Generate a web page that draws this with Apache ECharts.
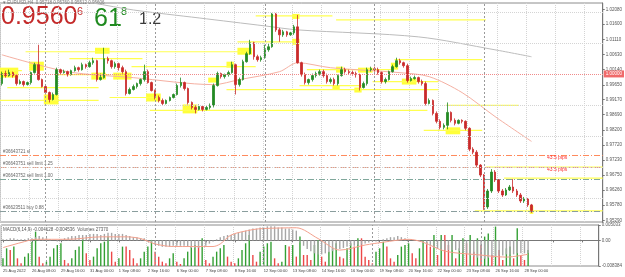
<!DOCTYPE html>
<html>
<head>
<meta charset="utf-8">
<script src="https://cdn.jsdelivr.net/npm/echarts@6/dist/echarts.min.js"></script>
<style>
  html, body { margin: 0; padding: 0; background: #fff; }
  #main { width: 625px; height: 277px; }
</style>
</head>
<body>
<div id="main"></div>
<script>
// EURUSD H4, 25 Aug - 28 Sep 2022
const timeLabels = ['25 Aug 2022', '26 Aug 08:00', '29 Aug 16:00', '31 Aug 00:00', '1 Sep 08:00',
  '2 Sep 16:00', '6 Sep 00:00', '7 Sep 08:00', '8 Sep 16:00', '12 Sep 00:00', '13 Sep 08:00',
  '14 Sep 16:00', '16 Sep 00:00', '19 Sep 08:00', '20 Sep 16:00', '22 Sep 00:00', '23 Sep 08:00',
  '26 Sep 16:00', '28 Sep 00:00']

// [open, close, low, high]
const ohlc = [
  [0.99690, 1.00010, 0.99626, 1.00074], [1.00010, 0.99946, 0.99882, 1.00106], [0.99946, 1.00042, 0.99914, 1.00138],
  [1.00042, 0.99946, 0.99882, 1.00074], [0.99946, 0.99690, 0.99626, 0.99978], [0.99690, 0.99754, 0.99658, 0.99818],
  [0.99754, 0.99658, 0.99594, 0.99786], [0.99658, 0.99722, 0.99626, 0.99754], [0.99722, 1.00042, 0.99658, 1.00074],
  [1.00042, 1.00298, 1.00010, 1.00362], [1.00298, 0.99818, 0.99786, 1.00938], [0.99818, 0.99594, 0.99562, 0.99850],
  [0.99594, 0.99402, 0.99338, 0.99658], [0.99402, 0.99178, 0.99082, 0.99434], [0.99178, 0.99338, 0.99146, 0.99402],
  [0.99338, 1.00138, 0.99306, 1.00202], [1.00138, 1.00042, 0.99978, 1.00170], [1.00042, 1.00074, 1.00010, 1.00138],
  [1.00074, 0.99978, 0.99914, 1.00106], [0.99978, 1.00106, 0.99946, 1.00138], [1.00106, 1.00202, 1.00074, 1.00266],
  [1.00202, 1.00138, 1.00074, 1.00234], [1.00138, 1.00298, 1.00106, 1.00362], [1.00298, 1.00234, 1.00170, 1.00330],
  [1.00234, 1.00362, 1.00202, 1.00426], [1.00362, 1.00426, 1.00298, 1.00522], [1.00426, 0.99818, 0.99754, 1.00458],
  [0.99818, 0.99882, 0.99786, 1.00010], [0.99882, 1.00490, 0.99850, 1.00842], [1.00490, 1.00426, 1.00330, 1.00554],
  [1.00426, 1.00234, 1.00170, 1.00458], [1.00234, 1.00330, 1.00170, 1.00394], [1.00330, 1.00202, 1.00106, 1.00362],
  [1.00202, 1.00074, 1.00010, 1.00266], [1.00074, 0.99370, 0.99306, 1.00138], [0.99370, 0.99498, 0.99338, 0.99562],
  [0.99498, 0.99594, 0.99466, 0.99658], [0.99594, 0.99690, 0.99530, 0.99722], [0.99690, 0.99818, 0.99626, 0.99850],
  [0.99818, 1.00074, 0.99754, 1.00298], [1.00074, 0.99722, 0.99690, 1.00138], [0.99722, 0.99466, 0.99434, 0.99754],
  [0.99466, 0.99242, 0.99178, 0.99498], [0.99242, 0.99146, 0.99082, 0.99306], [0.99146, 0.99050, 0.98986, 0.99210],
  [0.99050, 0.99146, 0.99018, 0.99178], [0.99146, 0.99242, 0.99114, 0.99274], [0.99242, 0.99338, 0.99210, 0.99370],
  [0.99338, 0.99626, 0.99306, 0.99690], [0.99626, 0.99722, 0.99562, 0.99882], [0.99722, 0.99530, 0.99466, 0.99754],
  [0.99530, 0.99082, 0.99018, 0.99562], [0.99082, 0.98922, 0.98858, 0.99114], [0.98922, 0.98858, 0.98730, 0.98986],
  [0.98858, 0.98954, 0.98826, 0.99018], [0.98954, 0.98858, 0.98794, 0.98986], [0.98858, 0.98922, 0.98826, 0.98986],
  [0.98922, 0.98986, 0.98858, 0.99050], [0.98986, 0.99626, 0.98922, 0.99690], [0.99626, 1.00010, 0.99594, 1.00074],
  [1.00010, 0.99914, 0.99850, 1.00042], [0.99914, 0.99978, 0.99850, 1.00010], [0.99978, 1.00042, 0.99914, 1.00106],
  [1.00042, 1.00298, 1.00010, 1.00394], [1.00298, 0.99658, 0.99338, 1.00330], [0.99658, 0.99818, 0.99594, 0.99882],
  [0.99818, 1.00394, 0.99786, 1.00458], [1.00394, 1.00650, 1.00362, 1.00714], [1.00650, 1.01002, 1.00618, 1.01098],
  [1.01002, 1.00554, 1.00458, 1.01034], [1.00554, 1.00458, 1.00394, 1.00618], [1.00458, 1.00522, 1.00394, 1.00586],
  [1.00522, 1.00778, 1.00490, 1.00938], [1.00778, 1.00874, 1.00714, 1.00970], [1.00874, 1.01930, 1.00842, 1.01962],
  [1.01930, 1.01418, 1.01354, 1.01962], [1.01418, 1.01258, 1.01034, 1.01482], [1.01258, 1.01354, 1.01194, 1.01418],
  [1.01354, 1.01258, 1.01194, 1.01386], [1.01258, 1.01322, 1.01226, 1.01354], [1.01322, 1.01514, 1.01258, 1.01578],
  [1.01514, 1.00362, 1.00330, 1.01898], [1.00362, 0.99978, 0.99914, 1.00394], [0.99978, 0.99722, 0.99658, 1.00042],
  [0.99722, 0.99818, 0.99658, 0.99850], [0.99818, 0.99946, 0.99754, 1.00010], [0.99946, 1.00010, 0.99882, 1.00074],
  [1.00010, 1.00074, 0.99946, 1.00138], [1.00074, 0.99946, 0.99882, 1.00138], [0.99946, 0.99754, 0.99690, 1.00010],
  [0.99754, 0.99818, 0.99690, 0.99882], [0.99818, 0.99690, 0.99626, 0.99882], [0.99690, 0.99946, 0.99626, 0.99978],
  [0.99946, 1.00138, 0.99914, 1.00234], [1.00138, 1.00074, 1.00010, 1.00202], [1.00074, 1.00042, 0.99978, 1.00138],
  [1.00042, 1.00010, 0.99946, 1.00106], [1.00010, 0.99978, 0.99882, 1.00074], [0.99978, 0.99562, 0.99466, 1.00010],
  [0.99562, 0.99690, 0.99530, 0.99754], [0.99690, 1.00138, 0.99626, 1.00202], [1.00138, 1.00170, 1.00074, 1.00234],
  [1.00170, 1.00138, 1.00074, 1.00234], [1.00138, 1.00042, 0.99978, 1.00202], [1.00042, 0.99754, 0.99690, 1.00074],
  [0.99754, 0.99818, 0.99690, 0.99882], [0.99818, 1.00074, 0.99786, 1.00106], [1.00074, 1.00234, 1.00042, 1.00298],
  [1.00234, 1.00426, 1.00202, 1.00522], [1.00426, 1.00362, 1.00298, 1.00490], [1.00362, 1.00266, 1.00202, 1.00394],
  [1.00266, 0.99786, 0.99722, 1.00330], [0.99786, 0.99850, 0.99754, 0.99914], [0.99850, 0.99882, 0.99818, 0.99946],
  [0.99882, 0.99754, 0.99690, 0.99914], [0.99754, 0.99690, 0.99626, 0.99818], [0.99690, 0.99050, 0.98986, 0.99754],
  [0.99050, 0.99146, 0.99018, 0.99210], [0.99146, 0.98730, 0.98666, 0.99178], [0.98730, 0.98474, 0.98410, 0.98794],
  [0.98474, 0.98282, 0.98218, 0.98538], [0.98282, 0.98346, 0.98218, 0.98410], [0.98346, 0.98762, 0.98218, 0.99082],
  [0.98762, 0.98506, 0.98442, 0.98794], [0.98506, 0.98410, 0.98346, 0.98570], [0.98410, 0.98506, 0.98378, 0.98538],
  [0.98506, 0.98474, 0.98410, 0.98538], [0.98474, 0.98250, 0.98186, 0.98506], [0.98250, 0.97578, 0.97514, 0.98282],
  [0.97578, 0.97482, 0.97418, 0.97642], [0.97482, 0.97066, 0.97002, 0.97546], [0.97066, 0.96746, 0.96682, 0.97098],
  [0.96746, 0.95722, 0.95626, 0.96778], [0.95722, 0.96234, 0.95658, 0.96298], [0.96234, 0.96842, 0.96170, 0.96938],
  [0.96842, 0.96586, 0.96522, 0.96906], [0.96586, 0.96234, 0.96170, 0.96618], [0.96234, 0.96106, 0.96042, 0.96298],
  [0.96106, 0.96266, 0.96074, 0.96330], [0.96266, 0.96362, 0.96234, 0.96426], [0.96362, 0.96234, 0.96170, 0.96618],
  [0.96234, 0.96106, 0.96042, 0.96298], [0.96106, 0.95914, 0.95850, 0.96170], [0.95914, 0.95978, 0.95850, 0.96042],
  [0.95978, 0.95786, 0.95722, 0.96010], [0.95786, 0.95606, 0.95530, 0.95818]
]

const volumes = [
  13100, 30200, 27400, 33100, 13100, 4600, 16000, 21700, 41600, 58700,
  16000, 4600, 7400, 16000, 30200, 35900, 38800, 10300, 4600, 13100,
  27400, 33100, 47300, 21700, 10300, 16000, 30200, 38800, 41600, 50200,
  24500, 7400, 13100, 33100, 33100, 27400, 13100, 4600, 13100, 24500,
  33100, 44500, 24500, 16000, 7400, 4600, 13100, 21700, 7400, 3400,
  13100, 24500, 33100, 35900, 33100, 47300, 10300, 4600, 16000, 24500,
  30200, 35900, 16000, 7400, 4600, 13100, 27400, 38800, 53000, 18800,
  7400, 24500, 33100, 38800, 41600, 13100, 4600, 7400, 35900, 33100,
  35900, 16000,
  50200, 18800, 18800, 10300, 35900, 44500, 16000, 7400, 24500, 30200,
  38800, 16000, 13100, 30200, 38800, 33100, 47300, 47300, 16000, 10300,
  4600, 24500, 30200, 41600, 33100, 13100, 7400, 18800, 33100, 35900,
  38800, 21700, 13100, 30200, 44500, 41600, 33100, 53000, 18800, 53000,
  53000, 35900, 53000, 13100, 30200, 47300, 38800, 53000, 24500, 47300,
  35900, 50200, 55300, 18800, 67300, 27400, 10300, 30200, 33100, 13100,
  64400, 18800, 10300, 27370
]

const macdHist = [
  0.00035, 0.00035, 0.00071, 0.00071, 0.00035, 0.00035, 0.00035, 0.00071, 0.00071, 0.00106, 0.00141, 0.00106,
  0.00071, 0.00035, 0, -0.00035, 0.00035,
  0.00071, 0.00106, 0.00141, 0.00141, 0.00177, 0.00177, 0.00177, 0.00212, 0.00212, 0.00212, 0.00177, 0.00212,
  0.00247, 0.00247, 0.00212, 0.00212, 0.00212, 0.00177, 0.00141, 0.00106, 0.00106, 0.00071, 0.00071,
  -0.00035, -0.00071, -0.00141, -0.00177, -0.00212, -0.00212, -0.00212, -0.00177, -0.00177, -0.00177,
  -0.00177, -0.00212, -0.00247, -0.00247, -0.00247, -0.00212, -0.00177, -0.00106, -0.00035,
  0.00035, 0.00106, 0.00141, 0.00177, 0.00177, 0.00212, 0.00247, 0.00282, 0.00318, 0.00353, 0.00388, 0.00388,
  0.00424, 0.00424, 0.00459, 0.00459, 0.00459, 0.00424, 0.00424, 0.00388, 0.00388, 0.00353, 0.00318,
  -0.00071, -0.00177, -0.00282, -0.00353, -0.00424, -0.00459, -0.00459, -0.00424, -0.00388, -0.00353,
  -0.00318, -0.00282, -0.00247, -0.00212, -0.00177, -0.00177, -0.00141, -0.00141, -0.00106, -0.00071, -0.00035,
  -0.00035, 0, 0.00035, 0.00071, 0.00106, 0.00106, 0.00141, 0.00106, 0.00071, 0.00035, 0, 0, -0.00035,
  -0.00071, -0.00141,
  -0.00177, -0.00247, -0.00282, -0.00318, -0.00318, -0.00318, -0.00318, -0.00318, -0.00353, -0.00388,
  -0.00424, -0.00494, -0.00530, -0.00565, -0.00600, -0.00600, -0.00565, -0.00530, -0.00530, -0.00494,
  -0.00494, -0.00459, -0.00459, -0.00459, -0.00424, -0.00424, -0.00424, -0.004128
]

// signal line, read at [bar, value]
const macdSignal = [
  [0, -0.00237], [5, -0.00071], [9, 0.00035], [18, 0.00035], [27, 0.00116], [34, 0.00116], [38, 0.0006],
  [42, -0.00116], [47, -0.00201], [58, -0.00201], [60, -0.00116], [63, 0.00177], [69, 0.00353], [72, 0.00388],
  [81, 0.00413], [87, 0.0006], [93, -0.00318], [100, -0.00152], [105, -0.0006], [112, 0.00035], [116, -0.0006],
  [122, -0.00353], [131, -0.0047], [139, -0.00547], [145, -0.004536]
]

// moving averages, read at [bar, price]
const maFast = [
  [0, 1.00616], [18, 1.00072], [36, 0.99880], [58, 0.99656], [65, 0.99816], [76, 1.00072], [81, 1.00360],
  [90, 1.00200], [109, 1.00040], [117, 0.99912], [126, 0.99399], [135, 0.98630], [145, 0.97829]
]
const maSlow = [
  [16, 1.02474], [25, 1.02282], [36, 1.02058], [54, 1.01801], [72, 1.01545], [81, 1.01417], [114, 1.01193],
  [135, 1.00776], [145, 1.00552]
]

const priceTicks = [1.0208, 1.0160, 1.0111, 1.0063, 1.0014, 0.9965, 0.9917, 0.9869, 0.9820,
  0.9772, 0.9723, 0.9675, 0.9626, 0.9578, 0.9529]
const macdTicks = [0.005033, 0, -0.008384]

// highlighted zones: [firstBar, lastBar, top, bottom]
const zones = [
  [0, 4, 1.00202, 0.99882], [8, 11, 1.00394, 1.00106], [12, 15, 0.99338, 0.99018], [26, 29, 1.00842, 1.00650],
  [25, 28, 1.00042, 0.99818], [31, 35, 1.00042, 0.99818], [40, 43, 0.99370, 0.99114], [50, 53, 0.99018, 0.98730],
  [57, 59, 0.99882, 0.99722], [62, 63, 1.00394, 1.00202], [65, 68, 1.00842, 1.00618], [80, 81, 1.01930, 1.01770],
  [80, 81, 1.01130, 1.00938], [92, 93, 1.00234, 1.00042], [91, 92, 0.99626, 0.99498], [98, 101, 1.00202, 1.00042],
  [97, 98, 0.99562, 0.99402], [107, 108, 1.00362, 1.00138], [110, 113, 0.99850, 0.99658], [122, 125, 0.98282, 0.98058],
  [145, 145, 0.95754, 0.95498]
]

// horizontal levels: [firstBar, lastBar, price]
const levels = [
  [70, 90, 1.01866], [92, 132, 1.01738], [65, 81, 1.01034], [7, 65, 1.00714], [19, 38, 1.00490], [36, 69, 1.00234],
  [0, 5, 1.00106], [16, 29, 0.99978], [2, 26, 0.99562], [0, 26, 0.99146], [30, 41, 0.99242], [41, 116, 0.98826],
  [62, 119, 0.99498], [108, 131, 1.00458], [84, 106, 1.00138], [102, 119, 0.99754], [82, 98, 0.99626],
  [122, 141, 0.98986], [116, 131, 0.98186], [133, 164, 0.97002], [138, 164, 0.96650], [130, 164, 0.95594]
]

const orderPrices = [0.97386, 0.97002, 0.96618, 0.95594]
const orderTexts = ['#36643721 sl', '#36643751 sell limit 1.25', '#36643752 sell limit 1.00', '#36623511 buy 0.88']
const pipLabels = [[152, 0.97306, '43.5 pips'], [152, 0.96906, '43.5 pips']]
const weekStarts = [12, 42, 72, 102, 132]
const roundLevel = 1.00000
const lastPrice = 0.95606

const slotCount = 165 // chart shift leaves empty slots on the right
const cats = []
for (let i = 0; i < slotCount; i++) {
  cats.push(i % 8 === 0 && timeLabels[i / 8] ? timeLabels[i / 8] : '')
}

const FONT = 'Liberation Sans, Arial, sans-serif'
const UP = '#238a23'
const DOWN = '#c92a2a'
const orderColors = ['#ff8a5c', '#e89880', '#80a89c', '#8a9e9e']

const chart = echarts.init(document.getElementById('main'))

const option = {
  animation: false,
  backgroundColor: '#ffffff',
  textStyle: { fontFamily: FONT },
  grid: [
    { left: 0, top: 3, width: 604, height: 219, show: true, borderColor: '#8c8c8c', borderWidth: 1 },
    { left: 0, top: 225, width: 604, height: 41, show: true, borderColor: '#8c8c8c', borderWidth: 1 }
  ],
  xAxis: [
    {
      type: 'category', gridIndex: 0, data: cats, boundaryGap: true,
      axisLine: { show: false }, axisTick: { show: false }, axisLabel: { show: false },
      splitLine: { show: true, interval: 7, lineStyle: { type: 'dotted', color: '#d4d4d4' } }
    },
    {
      type: 'category', gridIndex: 1, data: cats, boundaryGap: true,
      axisLine: { show: true, lineStyle: { color: '#777' } },
      axisTick: { show: true, interval: 7, length: 2, alignWithLabel: true, lineStyle: { color: '#777' } },
      axisLabel: { show: true, interval: 7, fontSize: 4, color: '#444', align: 'left', margin: 3 },
      splitLine: { show: true, interval: 7, lineStyle: { type: 'dotted', color: '#d4d4d4' } }
    }
  ],
  yAxis: [
    {
      type: 'value', gridIndex: 0, position: 'right', min: 0.95236, max: 1.02282,
      axisLine: { show: true, lineStyle: { color: '#777' } },
      axisTick: { show: true, length: 2, customValues: priceTicks, lineStyle: { color: '#777' } },
      axisLabel: { customValues: priceTicks, formatter: v => v.toFixed(5), fontSize: 4.5, color: '#555', margin: 3 },
      splitLine: { show: false }
    },
    {
      type: 'value', gridIndex: 1, position: 'right', min: -0.008384, max: 0.005033,
      axisLine: { show: true, lineStyle: { color: '#777' } },
      axisTick: { show: true, length: 2, customValues: macdTicks, lineStyle: { color: '#777' } },
      axisLabel: {
        customValues: macdTicks, fontSize: 4.5, color: '#555', margin: 3,
        formatter: v => (v === 0 ? '0.00' : v.toFixed(6))
      },
      splitLine: { show: false }
    },
    { type: 'value', gridIndex: 1, min: 0, max: 70000, show: false }
  ],
  graphic: [
    { type: 'text', x: 3, y: 0.5, style: { text: '\u25BE EURUSD,H4  0.95718 0.95760 0.95512 0.95606', font: '4.5px ' + FONT, fill: '#777' } },
    { type: 'text', x: 1, y: 5, style: { text: '0.9560', font: '25px ' + FONT, fill: '#c42a2a' } },
    { type: 'text', x: 77, y: 6, style: { text: '6', font: '11px ' + FONT, fill: '#c42a2a' } },
    { type: 'text', x: 94, y: 7, style: { text: '61', font: '25px ' + FONT, fill: '#1f8a1f' } },
    { type: 'text', x: 121, y: 6, style: { text: '8', font: '11px ' + FONT, fill: '#1f8a1f' } },
    { type: 'text', x: 139, y: 12, style: { text: '1.2', font: '16px ' + FONT, fill: '#3a3a3a' } },
    { type: 'text', x: 3, y: 227, style: { text: 'MACD(6,14,9) -0.004128 -0.004536  Volumes 27370', font: '4.5px ' + FONT, fill: '#555' } }
  ],
  series: [
    {
      // horizontal price grid
      name: 'grid', type: 'line', xAxisIndex: 0, yAxisIndex: 0, data: [], z: 0, silent: true,
      markLine: {
        silent: true, symbol: ['none', 'none'], label: { show: false },
        lineStyle: { type: 'dotted', color: '#d4d4d4', width: 1 },
        data: priceTicks.map(p => ({ yAxis: p }))
      }
    },
    {
      name: 'zones', type: 'custom', xAxisIndex: 0, yAxisIndex: 0, z: 1, clip: true, silent: true,
      data: zones,
      encode: { x: [0, 1], y: [2, 3] },
      renderItem: (params, api) => {
        const w = api.size([1, 0])[0]
        const a = api.coord([api.value(0), api.value(2)])
        const b = api.coord([api.value(1), api.value(3)])
        return {
          type: 'rect',
          shape: { x: a[0] - w / 2, y: a[1], width: b[0] - a[0] + w, height: b[1] - a[1] },
          style: { fill: '#ffff3a' }
        }
      }
    },
    {
      name: 'levels', type: 'custom', xAxisIndex: 0, yAxisIndex: 0, z: 1, clip: true, silent: true,
      data: levels,
      encode: { x: [0, 1], y: 2 },
      renderItem: (params, api) => {
        const w = api.size([1, 0])[0]
        const a = api.coord([api.value(0), api.value(2)])
        const b = api.coord([api.value(1), api.value(2)])
        return {
          type: 'line',
          shape: { x1: a[0] - w / 2, y1: a[1], x2: b[0] + w / 2, y2: b[1] },
          style: { stroke: '#ffff50', lineWidth: 1.2 }
        }
      }
    },
    {
      name: 'orders', type: 'custom', xAxisIndex: 0, yAxisIndex: 0, z: 2, clip: true, silent: true,
      data: orderPrices.map(p => [0, p]),
      encode: { x: 0, y: 1 },
      renderItem: (params, api) => {
        const w = api.size([1, 0])[0]
        const a = api.coord([0, api.value(1)])
        const b = api.coord([slotCount - 1, api.value(1)])
        const y = Math.round(a[1]) + 0.5
        return {
          type: 'group',
          children: [
            {
              type: 'line',
              shape: { x1: a[0] - w / 2, y1: y, x2: b[0] + w / 2, y2: y },
              style: { stroke: orderColors[params.dataIndex], lineWidth: 1, lineDash: [6, 2, 1, 2] }
            },
            {
              type: 'text', x: a[0] - w / 2 + 3, y: y - 1,
              style: { text: orderTexts[params.dataIndex], font: '4.5px ' + FONT, fill: '#666', verticalAlign: 'bottom' }
            }
          ]
        }
      }
    },
    {
      name: 'pips', type: 'custom', xAxisIndex: 0, yAxisIndex: 0, z: 4, silent: true,
      data: pipLabels.map(p => [p[0], p[1]]),
      encode: { x: 0, y: 1 },
      renderItem: (params, api) => {
        const a = api.coord([api.value(0), api.value(1)])
        return {
          type: 'text', x: a[0], y: a[1],
          style: {
            text: pipLabels[params.dataIndex][2], font: '5px ' + FONT, fill: '#ff3030',
            align: 'center', verticalAlign: 'middle'
          }
        }
      }
    },
    {
      name: 'MA slow', type: 'line', xAxisIndex: 0, yAxisIndex: 0, data: maSlow, z: 2,
      smooth: 0.3, showSymbol: false, clip: true, lineStyle: { color: '#bcbcbc', width: 1 }
    },
    {
      name: 'MA fast', type: 'line', xAxisIndex: 0, yAxisIndex: 0, data: maFast, z: 2,
      smooth: 0.3, showSymbol: false, clip: true, lineStyle: { color: '#f5b0a2', width: 1 }
    },
    {
      name: 'EURUSD', type: 'candlestick', xAxisIndex: 0, yAxisIndex: 0, data: ohlc, z: 3,
      barWidth: 2,
      itemStyle: { color: UP, color0: DOWN, borderColor: UP, borderColor0: DOWN, borderWidth: 0.8 },
      markLine: {
        silent: true, symbol: ['none', 'none'],
        data: [
          {
            yAxis: roundLevel,
            lineStyle: { color: '#f08a8a', type: 'dotted', width: 1 },
            label: {
              show: true, position: 'end', formatter: roundLevel.toFixed(5), fontSize: 4.5, color: '#fff',
              backgroundColor: '#f06a6a', padding: [1, 2], distance: 1
            }
          },
          {
            yAxis: lastPrice,
            lineStyle: { opacity: 0 },
            label: {
              show: true, position: 'end', formatter: lastPrice.toFixed(5), fontSize: 4.5, color: '#fff',
              backgroundColor: '#555', padding: [1, 2], distance: 1
            }
          },
          ...weekStarts.map(k => ({
            xAxis: k,
            lineStyle: { color: '#9a9a9a', type: [2, 2], width: 1 },
            label: { show: false }
          }))
        ]
      }
    },
    {
      name: 'Volumes', type: 'bar', xAxisIndex: 1, yAxisIndex: 2, data: volumes, z: 2,
      barWidth: 1.4, barGap: '-100%',
      itemStyle: {
        color: p => (p.dataIndex === 0 || volumes[p.dataIndex] > volumes[p.dataIndex - 1] ? '#34a034' : '#ec4848')
      }
    },
    {
      name: 'MACD', type: 'bar', xAxisIndex: 1, yAxisIndex: 1, data: macdHist, z: 3,
      barWidth: 1.4, barGap: '-100%', itemStyle: { color: '#a6a6a6' },
      markLine: {
        silent: true, symbol: ['none', 'none'], label: { show: false },
        lineStyle: { color: '#9a9a9a', type: [2, 2], width: 1 },
        data: weekStarts.map(k => ({ xAxis: k }))
      }
    },
    {
      name: 'Signal', type: 'line', xAxisIndex: 1, yAxisIndex: 1, data: macdSignal, z: 4,
      smooth: 0.3, showSymbol: false, lineStyle: { color: '#f4a08c', width: 1 }
    }
  ]
}

chart.setOption(option)
</script>
</body>
</html>
